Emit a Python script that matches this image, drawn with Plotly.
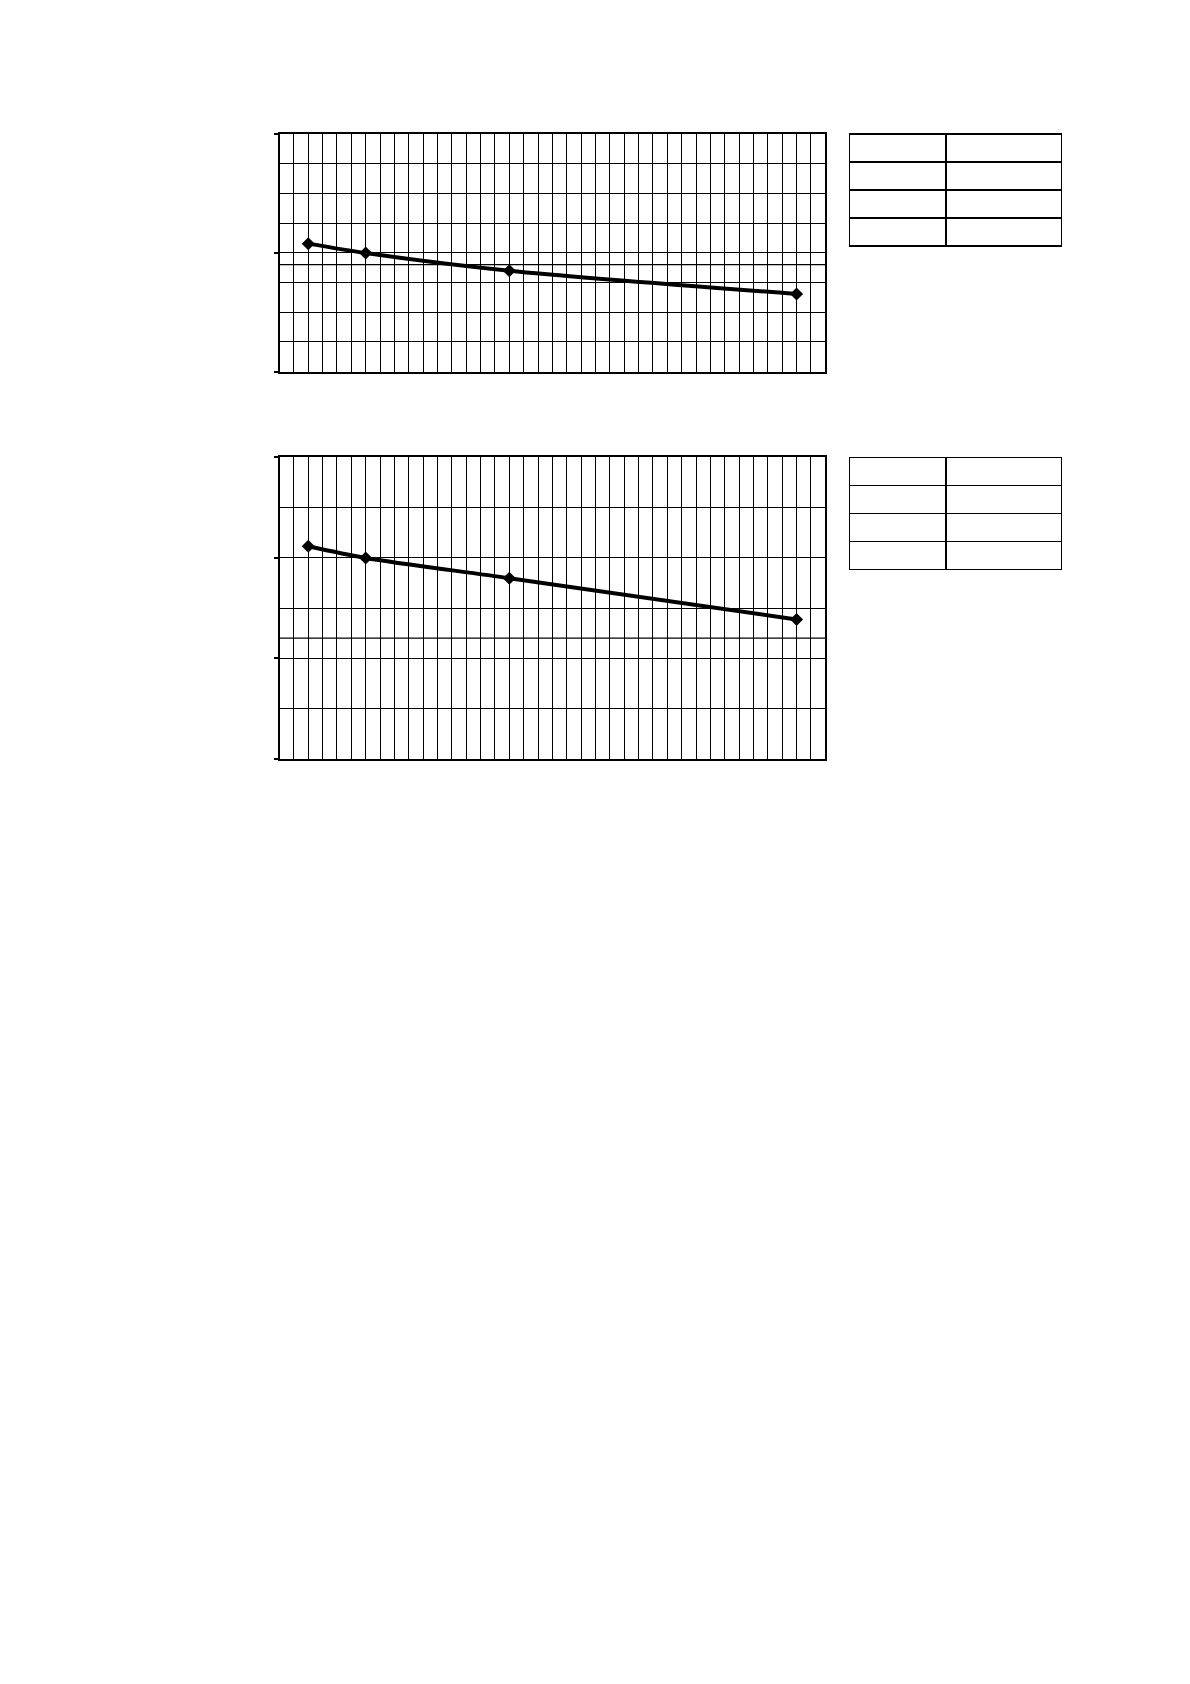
import plotly.graph_objects as go

PAGE_W, PAGE_H = 1190, 1684
BODY_MARGIN = 8
W, H = PAGE_W - 2 * BODY_MARGIN, PAGE_H - 2 * BODY_MARGIN

# ---- data ----
x_points = [2, 6, 16, 36]
chart1_values = [1.077, 0.998, 0.849, 0.654]
chart2_values = [2.113, 1.997, 1.796, 1.386]
chart1_limit = 0.9
chart2_limit = 1.2
x_range = [0, 38]
chart1_yrange = [0, 2]
chart2_yrange = [0, 3]
table_rows = ["", "", "", ""]

def px_x(v):
    return (v - BODY_MARGIN) / W

def px_y(v):
    return 1 - (v - BODY_MARGIN) / H

fig = go.Figure()

# chart 1
fig.add_trace(go.Scatter(
    x=x_points, y=chart1_values, mode="lines+markers",
    line=dict(color="black", width=4, shape="spline", smoothing=0.8),
    marker=dict(symbol="diamond", size=10, color="black"),
    xaxis="x", yaxis="y", showlegend=False))
fig.add_trace(go.Scatter(
    x=x_range, y=[chart1_limit, chart1_limit], mode="lines",
    line=dict(color="black", width=1.2), xaxis="x", yaxis="y",
    showlegend=False, hoverinfo="skip"))

# chart 2
fig.add_trace(go.Scatter(
    x=x_points, y=chart2_values, mode="lines+markers",
    line=dict(color="black", width=4, shape="spline", smoothing=0.8),
    marker=dict(symbol="diamond", size=10, color="black"),
    xaxis="x2", yaxis="y2", showlegend=False))
fig.add_trace(go.Scatter(
    x=x_range, y=[chart2_limit, chart2_limit], mode="lines",
    line=dict(color="black", width=1.2), xaxis="x2", yaxis="y2",
    showlegend=False, hoverinfo="skip"))

# tables
for top, bot in [(134, 250), (457.3, 573)]:
    fig.add_trace(go.Table(
        domain=dict(x=[px_x(849.3), px_x(1061.5)], y=[px_y(bot), px_y(top)]),
        columnwidth=[96, 115],
        header=dict(values=["", ""], height=28,
                    line=dict(color="black", width=1.5),
                    fill=dict(color="white")),
        cells=dict(values=[table_rows[1:], table_rows[1:]], height=28,
                   line=dict(color="black", width=1.5),
                   fill=dict(color="white"))))

xaxis_common = dict(
    range=x_range, dtick=1, showgrid=True, gridcolor="black", gridwidth=1,
    showticklabels=False, ticks="", zeroline=False,
    showline=True, linecolor="black", linewidth=2, mirror=True)

def yaxis_common(rng, minor):
    return dict(
        range=rng, dtick=1, showgrid=True, gridcolor="black", gridwidth=1,
        showticklabels=False, ticks="outside", ticklen=4, tickwidth=1.5,
        tickcolor="black", zeroline=False,
        showline=True, linecolor="black", linewidth=2, mirror=True,
        minor=dict(dtick=minor, showgrid=True, gridcolor="black",
                   gridwidth=1, ticks=""))

fig.update_layout(
    width=W, height=H,
    margin=dict(l=0, r=0, t=0, b=0),
    paper_bgcolor="white", plot_bgcolor="white",
    xaxis=dict(domain=[px_x(279.5), px_x(825.3)], anchor="y", **xaxis_common),
    yaxis=dict(domain=[px_y(371.6), px_y(134)], anchor="x",
               **yaxis_common(chart1_yrange, 0.25)),
    xaxis2=dict(domain=[px_x(279.5), px_x(825.3)], anchor="y2", **xaxis_common),
    yaxis2=dict(domain=[px_y(759), px_y(457)], anchor="x2",
                **yaxis_common(chart2_yrange, 0.5)),
)

fig.write_html("out.html")
